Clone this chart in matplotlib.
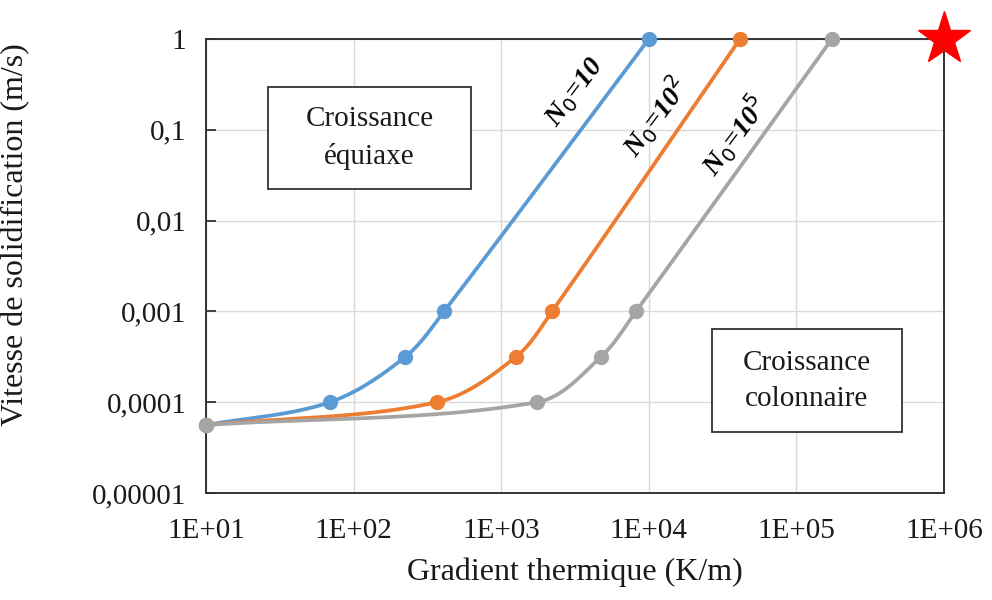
import numpy as np
import matplotlib; matplotlib.use("Agg")
import matplotlib.pyplot as plt
from matplotlib.patches import Rectangle

# data (x: K/m, y: m/s)
x_n10 = [10, 69, 224, 410, 10000]
y_n10 = [5.6e-5, 1e-4, 3.16e-4, 1e-3, 1.0]
x_n100 = [10, 367, 1260, 2210, 41500]
y_n100 = [5.6e-5, 1e-4, 3.16e-4, 1e-3, 1.0]
x_n1e5 = [10, 1750, 4740, 8190, 174000]
y_n1e5 = [5.6e-5, 1e-4, 3.16e-4, 1e-3, 1.0]

series = [(x_n10, y_n10, '#5b9bd5'),
          (x_n100, y_n100, '#ed7d31'),
          (x_n1e5, y_n1e5, '#a5a5a5')]

xticks = [1e1, 1e2, 1e3, 1e4, 1e5, 1e6]
xticklabels = ['1E+01', '1E+02', '1E+03', '1E+04', '1E+05', '1E+06']
yticks = [1e-5, 1e-4, 1e-3, 1e-2, 1e-1, 1]
yticklabels = ['0,00001', '0,0001', '0,001', '0,01', '0,1', '1']

# pixel size of one decade on each axis (used for the smoothing only)
SX, SY = 147.6, 90.8


def smooth(xs, ys, n=40):
    # smoothed line like Excel: bezier segments, tangents scaled by chord length
    p = np.column_stack([np.log10(xs) * SX, np.log10(ys) * SY])
    m = len(p)
    tang = []
    for i in range(m):
        d = p[min(i + 1, m - 1)] - p[max(i - 1, 0)]
        tang.append(d / np.hypot(*d))
    out = []
    t = np.linspace(0, 1, n)[:, None]
    for i in range(m - 1):
        p1, p2 = p[i], p[i + 1]
        L = np.hypot(*(p2 - p1))
        c1 = p1 + tang[i] * L / 3
        c2 = p2 - tang[i + 1] * L / 3
        seg = (1 - t) ** 3 * p1 + 3 * (1 - t) ** 2 * t * c1 + 3 * (1 - t) * t ** 2 * c2 + t ** 3 * p2
        out.append(seg)
    out = np.vstack(out)
    return 10 ** (out[:, 0] / SX), 10 ** (out[:, 1] / SY)


plt.rcParams['font.family'] = ['Liberation Serif', 'DejaVu Serif']
fig = plt.figure(figsize=(9.92, 6.0), dpi=100)
ax = fig.add_axes([206 / 992, 1 - 493 / 600, (944 - 206) / 992, (493 - 39) / 600])
ax.set_xscale('log')
ax.set_yscale('log')
ax.set_xlim(1e1, 1e6)
ax.set_ylim(1e-5, 1)

for xs, ys, c in series:
    sx, sy = smooth(xs, ys)
    ax.plot(sx, sy, color=c, lw=2.7, zorder=3, clip_on=False)
    ax.plot(xs, ys, 'o', color=c, ms=10, zorder=4, clip_on=False)

ax.set_xticks(xticks)
ax.set_xticklabels(xticklabels)
ax.set_yticks(yticks)
ax.set_yticklabels(yticklabels)
ax.minorticks_off()
ax.grid(True, color='#d9d9d9', lw=1)
ax.set_axisbelow(True)
for s in ax.spines.values():
    s.set_color('#333333')
    s.set_linewidth(1.4)
ax.tick_params(axis='y', direction='in', length=7, width=1.3, color='#333333',
               labelsize=21, pad=14, labelcolor='#1a1a1a')
ax.tick_params(axis='x', length=0, labelsize=21, pad=18, labelcolor='#1a1a1a')
ax.set_xlabel('Gradient thermique (K/m)', fontsize=23, labelpad=10, color='#1a1a1a')
ax.set_ylabel('Vitesse de solidification (m/s)', fontsize=23, color='#1a1a1a')
ax.yaxis.set_label_coords(-0.238, 0.57)

ax.plot([1e6], [1], marker='*', color='red', ms=40, clip_on=False, zorder=5)

# annotation boxes (pixel rectangles from the reference)
for (x0, y0, x1, y1), txt in [((268, 87, 471, 189), 'Croissance\néquiaxe'),
                              ((712, 329, 902, 432), 'Croissance\ncolonnaire')]:
    fig.patches.append(Rectangle((x0 / 992, 1 - y1 / 600), (x1 - x0) / 992, (y1 - y0) / 600,
                                 transform=fig.transFigure, fc='white', ec='#333333',
                                 lw=1.3, zorder=6))
    fig.text((x0 + x1) / 2 / 992, 1 - (y0 + y1) / 2 / 600, txt, ha='center', va='center',
             fontsize=21, linespacing=1.5, zorder=7, color='#1a1a1a')

lab = dict(fontsize=20, fontweight='bold', fontstyle='italic', rotation=53,
           ha='center', va='center', transform=fig.transFigure)
fig.text(575 / 992, 1 - 92 / 600, r'N$_\mathit{0}$=10', **lab)
fig.text(655 / 992, 1 - 117 / 600, r'N$_\mathit{0}$=10$^\mathit{2}$', **lab)
fig.text(734 / 992, 1 - 135 / 600, r'N$_\mathit{0}$=10$^\mathit{5}$', **lab)

fig.savefig('out.png', dpi=100)
